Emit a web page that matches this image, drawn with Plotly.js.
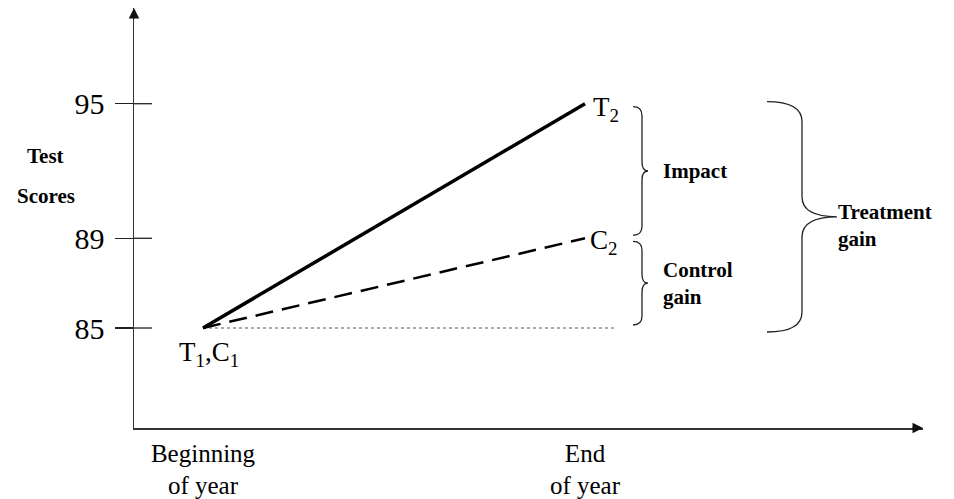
<!DOCTYPE html>
<html>
<head>
<meta charset="utf-8">
<script src="https://cdn.plot.ly/plotly-3.0.1.min.js"></script>
<style>html,body{margin:0;padding:0;background:#fff;}#chart{width:954px;height:499px;}</style>
</head>
<body>
<div id="chart"></div>
<script>
// ---- data ----
const periods = [0, 1];
const periodLabels = ['Beginning<br>of year', 'End<br>of year'];
const treatmentScores = [85, 95];
const controlScores = [85, 89];
const baselineX = [0, 1.08];
const baselineScores = [85, 85];
const yTicks = [85, 89, 95];
const yTickLabels = ['85', '89', '95'];

// ---- layout constants ----
const W = 954, H = 499;
const M = {l: 134, r: 31, t: 8, b: 71};
const xRange = [-0.1806, 1.8848];
const yRange = [80.542, 99.267];
const kx = (W - M.l - M.r) / (xRange[1] - xRange[0]);
const ky = (H - M.t - M.b) / (yRange[1] - yRange[0]);
const FONT = 'Liberation Serif, Times New Roman, serif';

function bracePath(x0, dxh, dxs, dxt, yTop, yBot, r, r2) {
  const xh = x0 + dxh / kx, xs = x0 + dxs / kx, xt = x0 + dxt / kx;
  const ym = (yTop + yBot) / 2;
  const ry = r / ky, ry2 = r2 / ky;
  return 'M' + xh + ',' + yTop +
    ' Q' + xs + ',' + yTop + ' ' + xs + ',' + (yTop - ry) +
    ' L' + xs + ',' + (ym + ry2) +
    ' Q' + xs + ',' + ym + ' ' + xt + ',' + ym +
    ' Q' + xs + ',' + ym + ' ' + xs + ',' + (ym - ry2) +
    ' L' + xs + ',' + (yBot + ry) +
    ' Q' + xs + ',' + yBot + ' ' + xh + ',' + yBot;
}

const end = periods[1];
const t2 = treatmentScores[1], c2 = controlScores[1], base = treatmentScores[0];
const inset = 3 / ky;

const braceLine = {color: '#222', width: 1.3};
const shapes = [
  {type: 'path', xref: 'x', yref: 'y', line: braceLine,
   path: bracePath(end, 48, 57, 63, t2 - inset, c2 + inset, 9, 9)},
  {type: 'path', xref: 'x', yref: 'y', line: braceLine,
   path: bracePath(end, 48, 57, 63, c2 - inset, base + inset, 9, 9)},
  {type: 'path', xref: 'x', yref: 'y', line: braceLine,
   path: bracePath(end, 182, 217, 252, t2 + 2 / ky, base - 4 / ky, 20, 20)}
];
// inside half of crossing y ticks
yTicks.forEach(v => shapes.push({
  type: 'line', xref: 'x', yref: 'y', xsizemode: 'pixel', xanchor: xRange[0],
  x0: 0, x1: 18, y0: v, y1: v, line: {color: '#222', width: 1.3}
}));

const traces = [
  {x: baselineX, y: baselineScores, mode: 'lines', hoverinfo: 'skip',
   line: {color: '#555', width: 1, dash: 'dot'}},
  {x: periods, y: controlScores, mode: 'lines', hoverinfo: 'skip',
   line: {color: '#000', width: 2.5, dash: '18px,9px'}},
  {x: periods, y: treatmentScores, mode: 'lines', hoverinfo: 'skip',
   line: {color: '#000', width: 3.5}}
];

const labelFont = {family: FONT, size: 27, color: '#000'};
const boldFont = {family: FONT, size: 21, color: '#000'};
const annotations = [
  // axis arrowheads
  {xref: 'paper', yref: 'paper', x: 1, y: 0, ax: -12, ay: 0, text: '', showarrow: true,
   arrowhead: 2, arrowsize: 1.4, arrowwidth: 1.5, arrowcolor: '#111', standoff: 0},
  {xref: 'paper', yref: 'paper', x: 0, y: 1, ax: 0, ay: 12, text: '', showarrow: true,
   arrowhead: 2, arrowsize: 1.4, arrowwidth: 1.5, arrowcolor: '#111', standoff: 0},
  // point labels
  {x: periods[0], y: base, text: 'T<sub>1</sub>,C<sub>1</sub>', showarrow: false,
   xanchor: 'center', yanchor: 'top', xshift: 6, yshift: -7, font: labelFont},
  {x: end, y: t2, text: 'T<sub>2</sub>', showarrow: false,
   xanchor: 'left', yanchor: 'middle', xshift: 6, yshift: -5, font: labelFont},
  {x: end, y: c2, text: 'C<sub>2</sub>', showarrow: false,
   xanchor: 'left', yanchor: 'middle', xshift: 3, yshift: -4, font: labelFont},
  // brace labels
  {x: end, y: (t2 + c2) / 2, text: '<b>Impact</b>', showarrow: false,
   xanchor: 'left', yanchor: 'middle', xshift: 76, font: boldFont},
  {x: end, y: (c2 + base) / 2, text: '<b>Control<br>gain</b>', showarrow: false,
   xanchor: 'left', yanchor: 'middle', align: 'left', xshift: 76, yshift: 0, font: boldFont},
  {x: end, y: (t2 + base) / 2, text: '<b>Treatment<br>gain</b>', showarrow: false,
   xanchor: 'left', yanchor: 'middle', align: 'left', xshift: 251, yshift: -10, font: boldFont},
  // y axis title
  {xref: 'paper', yref: 'paper', x: 0, y: (H - M.b - 156) / (H - M.t - M.b), xshift: -89,
   text: '<b>Test</b>', showarrow: false, xanchor: 'center', yanchor: 'middle', font: boldFont},
  {xref: 'paper', yref: 'paper', x: 0, y: (H - M.b - 196) / (H - M.t - M.b), xshift: -88,
   text: '<b>Scores</b>', showarrow: false, xanchor: 'center', yanchor: 'middle', font: boldFont}
];

const layout = {
  width: W, height: H, margin: M, showlegend: false,
  paper_bgcolor: '#fff', plot_bgcolor: '#fff',
  xaxis: {range: xRange, showgrid: false, zeroline: false, showline: true,
    linecolor: '#333', linewidth: 1.5, tickvals: periods, ticktext: periodLabels,
    ticks: '', tickfont: {family: FONT, size: 25, color: '#000'}, ticklabelstandoff: 2,
    fixedrange: true},
  yaxis: {range: yRange, showgrid: false, zeroline: false, showline: true,
    linecolor: '#333', linewidth: 1.5, tickvals: yTicks, ticktext: yTickLabels,
    ticks: 'outside', ticklen: 18, tickwidth: 1.3, tickcolor: '#222',
    tickfont: {family: FONT, size: 30, color: '#000'}, ticklabelstandoff: 4,
    fixedrange: true},
  shapes: shapes,
  annotations: annotations
};

Plotly.newPlot('chart', traces, layout, {staticPlot: true, displayModeBar: false});
</script>
</body>
</html>
